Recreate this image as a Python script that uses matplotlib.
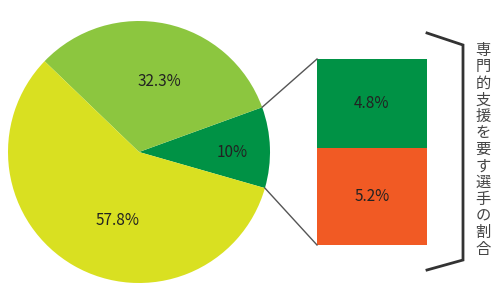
import numpy as np
import matplotlib.pyplot as plt

plt.rcParams['font.family'] = ['Noto Sans CJK JP', 'DejaVu Sans']

# pie data
pie_values = [10.0, 32.3, 57.8]
pie_labels = ['10%', '32.3%', '57.8%']
pie_colors = ['#009245', '#8CC63F', '#D9E021']

# breakdown of the 10% slice (bottom to top)
bar_values = [5.2, 4.8]
bar_labels = ['5.2%', '4.8%']
bar_colors = ['#F15A24', '#009245']

side_title = '専門的支援を要す選手の割合'

fig = plt.figure(figsize=(4.99, 3.0), dpi=100)
ax = fig.add_axes([0, 0, 1, 1])

cx, cy, r = 139, 148, 131
start = -16
wedges, _ = ax.pie(pie_values, colors=pie_colors, startangle=start,
                   counterclock=True, center=(cx, cy), radius=r,
                   wedgeprops=dict(linewidth=0))

# slice labels (radius as fraction of r, angle offset from slice middle)
label_r = [0.71, 0.56, 0.55]
label_da = [-2, -4, 13]
a0 = start
for v, lab, lr, da in zip(pie_values, pie_labels, label_r, label_da):
    a1 = a0 + v / sum(pie_values) * 360
    mid = np.radians((a0 + a1) / 2 + da)
    ax.text(cx + lr * r * np.cos(mid), cy + lr * r * np.sin(mid), lab,
            ha='center', va='center', fontsize=11, color='#222222')
    a0 = a1

# stacked bar for the breakdown
bx, bw, by = 372, 110, 55
scale = 186 / sum(bar_values)
bottom = by
for v, lab, c in zip(bar_values, bar_labels, bar_colors):
    ax.bar(bx, v * scale, width=bw, bottom=bottom, color=c, linewidth=0)
    ax.text(bx, bottom + v * scale / 2, lab, ha='center', va='center',
            fontsize=11, color='#222222')
    bottom += v * scale
top = bottom

# connector lines from the 10% slice to the bar
t1 = np.radians(start + pie_values[0] / sum(pie_values) * 360)
t0 = np.radians(start)
ax.plot([cx + r * np.cos(t1), bx - bw / 2], [cy + r * np.sin(t1), top],
        color='#555555', lw=1)
ax.plot([cx + r * np.cos(t0), bx - bw / 2], [cy + r * np.sin(t0), by],
        color='#555555', lw=1)

# bracket
ax.plot([427, 463, 463, 427], [267, 255, 40, 30], color='#333333', lw=2,
        solid_joinstyle='miter')

# vertical title
y0, step = 250, 16.6
for i, ch in enumerate(side_title):
    ax.text(483, y0 - i * step, ch, ha='center', va='center', fontsize=11,
            color='#444444')

ax.set_xlim(0, 499)
ax.set_ylim(0, 300)
ax.set_aspect('auto')
ax.axis('off')

fig.savefig('out.png', dpi=100)
